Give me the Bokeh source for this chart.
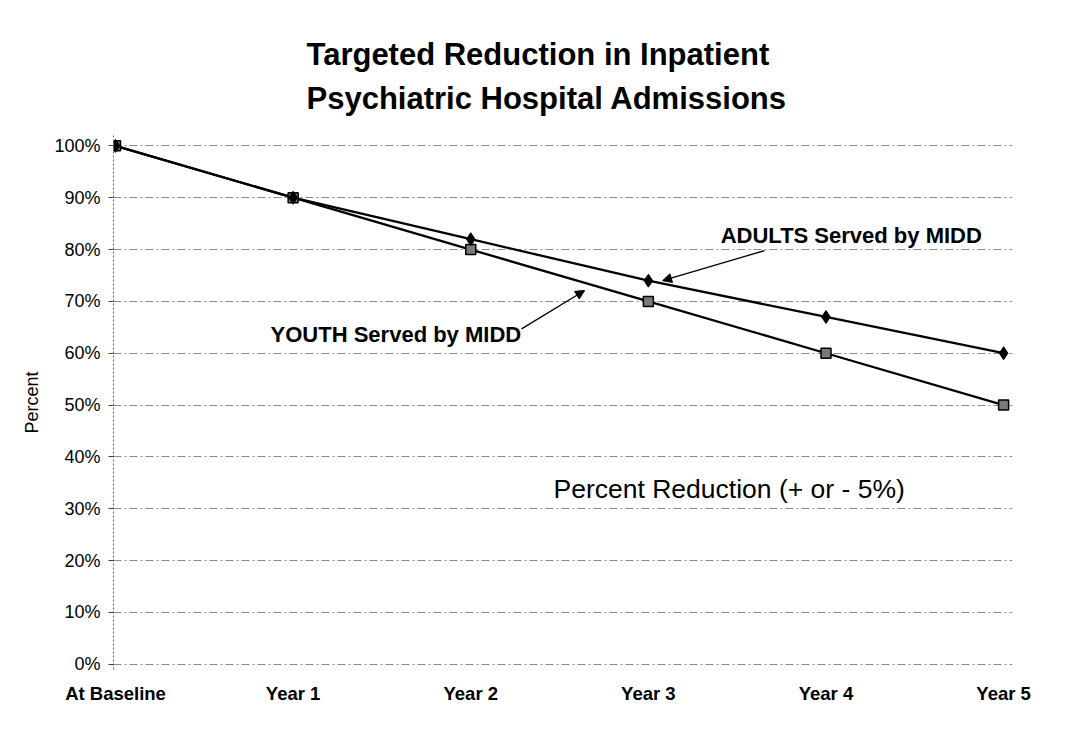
from bokeh.plotting import figure
from bokeh.models import (Range1d, FixedTicker, Label, Arrow, NormalHead,
                          ColumnDataSource, PrintfTickFormatter)
from bokeh.embed import file_html
from bokeh.resources import INLINE

categories = ["At Baseline", "Year 1", "Year 2", "Year 3", "Year 4", "Year 5"]
adults = [100, 90, 82, 74, 67, 60]
youth = [100, 90, 80, 70, 60, 50]
y_ticks = [0, 10, 20, 30, 40, 50, 60, 70, 80, 90, 100]

title_text = "Targeted Reduction in Inpatient\nPsychiatric Hospital Admissions"
adults_label = "ADULTS Served by MIDD"
youth_label = "YOUTH Served by MIDD"
note_label = "Percent Reduction (+ or - 5%)"

FONT = "Liberation Sans"
xs = list(range(len(categories)))

p = figure(width=1050, height=723, output_backend="svg", toolbar_location=None,
           x_range=Range1d(-0.0113, 5.05), y_range=Range1d(-1, 102),
           min_border_left=113, min_border_right=38, min_border_top=135,
           min_border_bottom=54)
p.outline_line_color = None
p.background_fill_color = "white"
p.border_fill_color = "white"

p.title.text = title_text
p.title.align = "left"
p.title.offset = 193
p.title.text_font = FONT
p.title.text_font_style = "bold"
p.title.text_font_size = "31px"
p.title.text_line_height = 1.25
p.title.text_color = "black"
p.title.standoff = 39

# axes
p.xaxis.ticker = FixedTicker(ticks=xs)
p.xaxis.major_label_overrides = {i: c for i, c in enumerate(categories)}
p.xaxis.axis_line_color = None
p.xaxis.major_tick_line_color = None
p.xaxis.minor_tick_line_color = None
p.xaxis.major_tick_out = 0
p.xaxis.major_label_standoff = 13
p.xaxis.major_label_text_font = FONT
p.xaxis.major_label_text_font_style = "bold"
p.xaxis.major_label_text_font_size = "18.5px"
p.xaxis.major_label_text_color = "black"

p.yaxis.ticker = FixedTicker(ticks=y_ticks)
p.yaxis.formatter = PrintfTickFormatter(format="%d%%")
p.yaxis.axis_line_color = "#666666"
p.yaxis.axis_line_dash = "2 2"
p.yaxis.major_tick_line_color = "#444444"
p.yaxis.major_tick_out = 5
p.yaxis.major_tick_in = 0
p.yaxis.minor_tick_line_color = None
p.yaxis.major_label_standoff = 8
p.yaxis.major_label_text_font = FONT
p.yaxis.major_label_text_font_size = "18px"
p.yaxis.major_label_text_color = "black"
p.yaxis.axis_label = "Percent"
p.yaxis.axis_label_text_font = FONT
p.yaxis.axis_label_text_font_style = "normal"
p.yaxis.axis_label_text_font_size = "18px"
p.yaxis.axis_label_text_color = "black"
p.yaxis.axis_label_standoff = 9

p.xgrid.grid_line_color = None
p.ygrid.ticker = FixedTicker(ticks=y_ticks)
p.ygrid.grid_line_color = "#8c8c8c"
p.ygrid.grid_line_dash = "8 3 2 3"
p.ygrid.grid_line_width = 1

src = ColumnDataSource(dict(x=xs, adults=adults, youth=youth))
p.line("x", "youth", source=src, line_color="black", line_width=2.3)
p.line("x", "adults", source=src, line_color="black", line_width=2.3)
p.scatter("x", "youth", source=src, marker="square", size=10,
          fill_color="#7a7a7a", line_color="black", line_width=1.5)
p.scatter("x", "adults", source=src, marker="diamond", size=13,
          fill_color="black", line_color="black")

# annotations
p.add_layout(Label(x=3.407, y=82.8, text=adults_label, text_align="left",
                   text_baseline="alphabetic", text_font=FONT, text_font_style="bold",
                   text_font_size="22px", text_color="black"))
p.add_layout(Label(x=0.873, y=63.6, text=youth_label, text_align="left",
                   text_baseline="alphabetic", text_font=FONT, text_font_style="bold",
                   text_font_size="22px", text_color="black"))
p.add_layout(Label(x=2.466, y=33.9, text=note_label, text_align="left",
                   text_baseline="alphabetic", text_font=FONT, text_font_style="normal",
                   text_font_size="26.5px", text_color="black"))

p.add_layout(Arrow(end=NormalHead(size=9, fill_color="black", line_color="black"),
                   x_start=3.654, y_start=79.8, x_end=3.08, y_end=74.0,
                   line_color="black", line_width=1.3))
p.add_layout(Arrow(end=NormalHead(size=9, fill_color="black", line_color="black"),
                   x_start=2.286, y_start=64.7, x_end=2.641, y_end=72.1,
                   line_color="black", line_width=1.3))

open("out.html", "w").write(file_html(p, INLINE))
